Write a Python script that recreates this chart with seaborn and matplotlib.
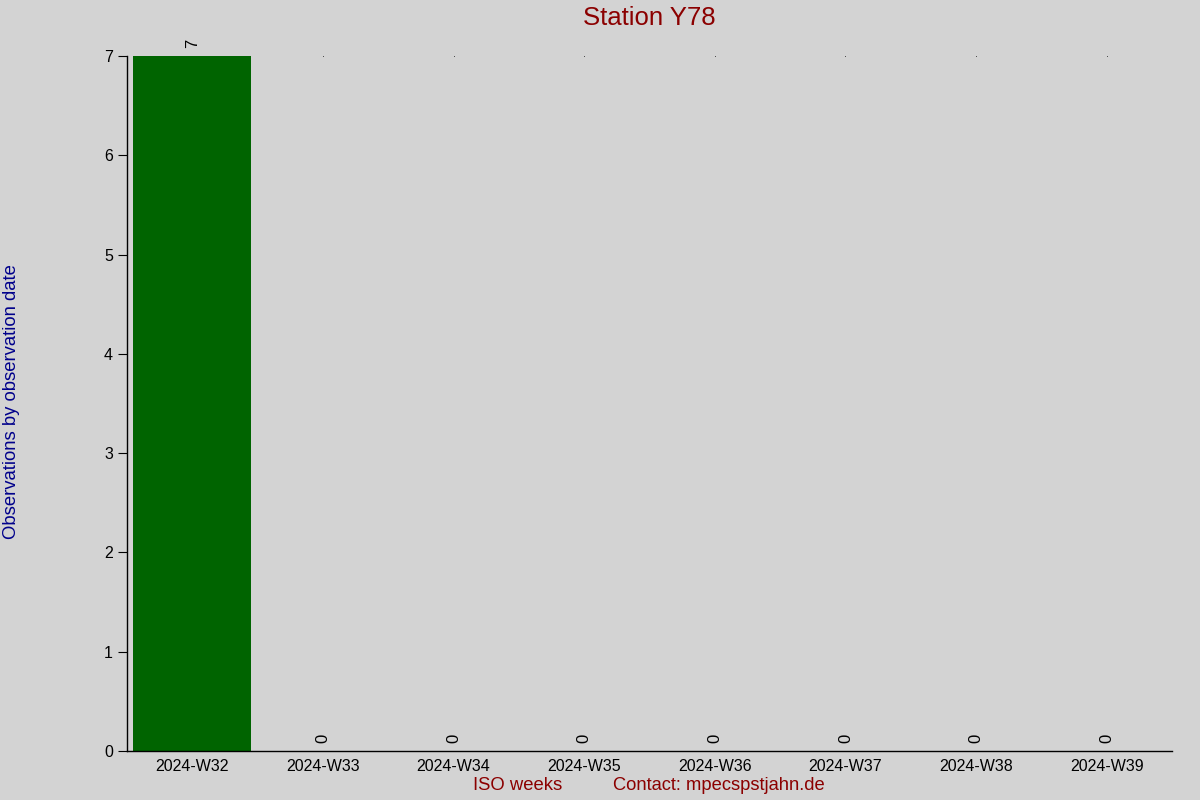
"""
Weekly observation counts for station Y78, drawn as a seaborn bar chart.
Saves out.png
"""

import matplotlib.pyplot as plt
import pandas as pd
import seaborn as sns

weeks = ["2024-W32", "2024-W33", "2024-W34", "2024-W35",
         "2024-W36", "2024-W37", "2024-W38", "2024-W39"]
counts = [7, 0, 0, 0, 0, 0, 0, 0]


def main():
    sns.set_style("ticks")
    plt.rcParams["font.family"] = ["Liberation Sans", "DejaVu Sans"]

    df = pd.DataFrame({"week": weeks, "count": counts})

    fig = plt.figure(figsize=(12, 8), dpi=100, facecolor="#d3d3d3")
    ax = fig.add_axes([0.1058, 0.06125, 0.8709, 0.86875])
    ax.set_facecolor("#d3d3d3")

    sns.barplot(data=df, x="week", y="count", color="#006400",
                saturation=1, width=0.9, linewidth=0, edgecolor="none",
                ax=ax)

    # tiny dots along the top level, as in the original
    top = max(counts)
    others = df[df["count"] < top]
    ax.scatter(others["week"], [top] * len(others), s=0.25,
               color="black", linewidths=0, zorder=3)

    for i, c in enumerate(counts):
        ax.text(i, c + 0.08, str(c), rotation=90, ha="center",
                va="bottom", fontsize=12, color="black")

    ax.set_xlim(-0.5, 7.5)
    ax.set_ylim(0, top)
    ax.set_yticks(range(0, top + 1))
    ax.tick_params(axis="y", length=6.5, labelsize=11.5, direction="out",
                   colors="black")
    ax.tick_params(axis="x", length=0, labelsize=11.5, pad=5.5,
                   colors="black")
    sns.despine(ax=ax)
    for s in ["left", "bottom"]:
        ax.spines[s].set_color("black")
        ax.spines[s].set_linewidth(1)

    ax.set_xlabel("")
    ax.set_ylabel("")
    fig.text(0.5408, 0.9775, "Station Y78", color="#8b0000",
             fontsize=18.5, ha="center", va="center")
    fig.text(0.0095, 0.4985, "Observations by observation date",
             color="#00008b", fontsize=13.3, rotation=90,
             ha="center", va="center")
    fig.text(0.394, 0.0175, "ISO weeks", color="#8b0000",
             fontsize=13.3, ha="left", va="center")
    fig.text(0.511, 0.0175, "Contact: mpecspstjahn.de", color="#8b0000",
             fontsize=13.2, ha="left", va="center")

    fig.savefig("out.png", facecolor=fig.get_facecolor())


if __name__ == "__main__":
    main()
